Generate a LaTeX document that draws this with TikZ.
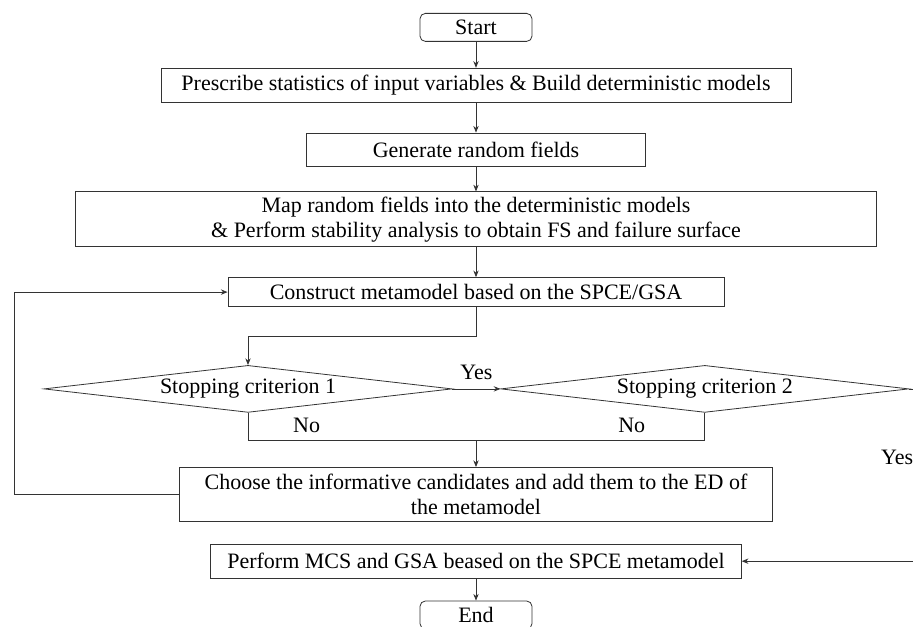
\documentclass[tikz,border=0pt]{standalone}
\usepackage{fontspec}
\setmainfont{Liberation Serif}
\usetikzlibrary{arrows.meta,positioning,shapes.geometric}

\begin{document}
\begin{tikzpicture}[
  node distance=22.5pt,
  every node/.style={font=\fontsize{16.5}{19}\selectfont},
  box/.style={draw=black!80,line width=0.6pt,align=center,inner sep=2pt,
              minimum height=25.5pt},
  term/.style={box,rounded corners=4pt,minimum width=84pt,minimum height=21pt},
  crit/.style={draw=black!80,line width=0.6pt,diamond,aspect=8.7,inner sep=1pt,
               minimum width=306pt,minimum height=35.25pt},
  ar/.style={-{Stealth[length=5pt,width=4pt]},line width=0.6pt,draw=black!80},
  ln/.style={line width=0.6pt,draw=black!80}]
\node[term] (start) {Start};
\node[box,below=19.5pt of start,minimum width=472.5pt] (prescribe) {Prescribe statistics of input variables \& Build deterministic models};
\node[box,below=of prescribe,minimum width=254pt,minimum height=24.75pt] (generate) {Generate random fields};
\node[box,below=18.75pt of generate,minimum width=600.75pt,minimum height=41.25pt] (map) {Map random fields into the deterministic models\\ \& Perform stability analysis to obtain FS and failure surface};
\node[box,below=of map,minimum width=372pt,minimum height=21.75pt] (construct) {Construct metamodel based on the SPCE/GSA};
\node[crit,below=43.5pt of construct,xshift=-171pt] (crit1) {Stopping criterion 1};
\node[crit,right=36pt of crit1] (crit2) {Stopping criterion 2};
\node[box,below=120pt of construct,minimum width=444.75pt,minimum height=40.5pt] (choose) {Choose the informative candidates and add them to the ED of\\ the metamodel};
\node[box,below=16.5pt of choose,minimum width=398pt] (perform) {Perform MCS and GSA beased on the SPCE metamodel};
\node[term,below=16.5pt of perform] (end) {End};
% labels
\node (no1) at ([xshift=44pt,yshift=-9.75pt]crit1.south) {No};
\node (no2) at ([xshift=-54.75pt,yshift=-9.75pt]crit2.south) {No};
\node (yes2) at ([xshift=-9pt,yshift=-51.75pt]crit2.east) {Yes};
\coordinate (nobar) at ([yshift=-21pt]crit1.south);
% connectors
\draw[ar] (start) -- (prescribe);
\draw[ar] (prescribe) -- (generate);
\draw[ar] (generate) -- (map);
\draw[ar] (map) -- (construct);
\draw[ar] (construct.south) -- ++(0,-21.75pt) -| (crit1.north);
\draw[ar] (crit1.east) -- node[above=3pt]{Yes} (crit2.west);
\draw[ln] (crit1.south) -- (nobar) -| (crit2.south);
\draw[ar] (choose.north |- nobar) -- (choose.north);
\draw[ar] (choose.west) -- ++(-123.75pt,0) |- (construct.west);
\draw[ar] (crit2.east) -- ++(14pt,0) |- (perform.east);
\draw[ar] (perform) -- (end);
\coordinate (tl) at ([yshift=9.75pt]start.north);
\pgfresetboundingbox
\useasboundingbox ([xshift=-357pt]tl) rectangle ([xshift=327.75pt,yshift=-19.5pt]end.north);
\end{tikzpicture}
\end{document}
